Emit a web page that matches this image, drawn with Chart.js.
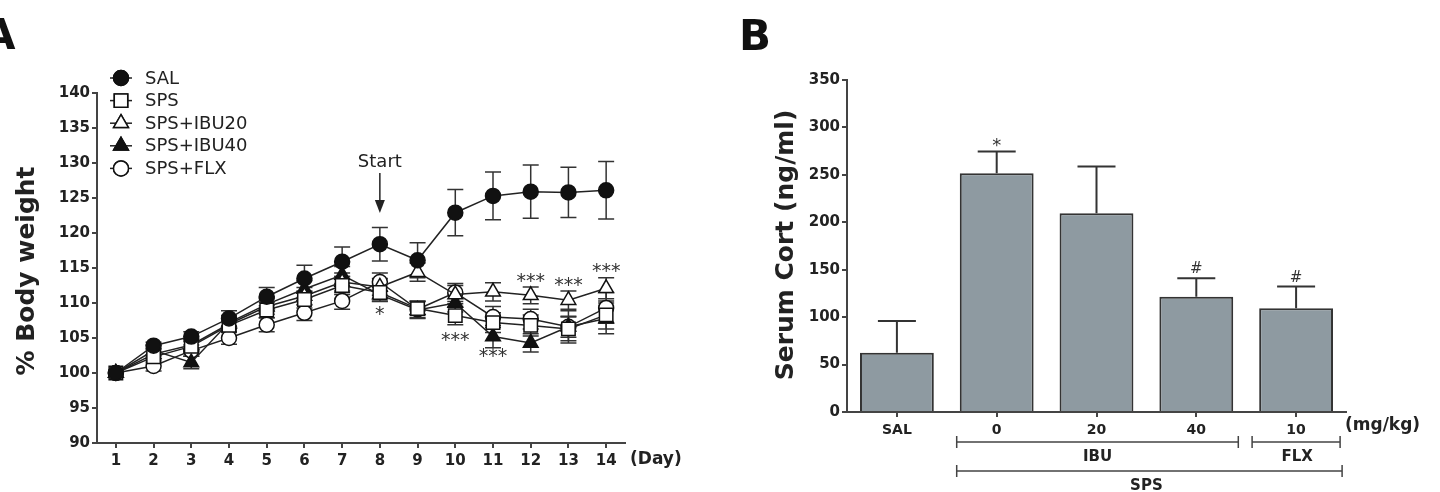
<!DOCTYPE html>
<html>
<head>
<meta charset="utf-8">
<script src="https://cdn.jsdelivr.net/npm/chart.js@4.4.0/dist/chart.umd.min.js"></script>
<style>
  html, body { margin: 0; padding: 0; background: #fff; }
  #wrap { position: relative; width: 1440px; height: 492px; overflow: hidden; }
  .panel { position: absolute; top: 0; width: 720px; height: 492px; }
</style>
</head>
<body>
<div id="wrap">
  <div class="panel" style="left:0"><canvas id="chartA"></canvas></div>
  <div class="panel" style="left:720px"><canvas id="chartB"></canvas></div>
</div>
<script>
// Panel A: % body weight por día
const days = ['1', '2', '3', '4', '5', '6', '7', '8', '9', '10', '11', '12', '13', '14'];
const salMean   = [100, 103.9, 105.2, 107.8, 110.9, 113.5, 115.9, 118.4, 116.1, 122.9, 125.3, 125.9, 125.8, 126.1];
const salErr    = [0, 0.5, 0.7, 1.1, 1.3, 1.9, 2.1, 2.4, 2.5, 3.3, 3.4, 3.8, 3.6, 4.1];
const spsMean   = [100, 102.3, 103.8, 106.8, 109.0, 110.5, 112.5, 111.5, 109.2, 108.2, 107.2, 106.8, 106.3, 108.3];
const spsErr    = [0, 0.8, 0.9, 1.0, 1.1, 1.2, 1.3, 1.2, 1.0, 1.3, 1.4, 1.5, 1.7, 2.0];
const ibu20Mean = [100, 102.7, 104.0, 107.0, 109.5, 111.0, 113.0, 112.3, 114.4, 111.2, 111.6, 111.1, 110.4, 112.1];
const ibu20Err  = [0, 0.8, 0.9, 1.0, 1.1, 1.2, 1.3, 1.2, 1.3, 1.3, 1.3, 1.2, 1.3, 1.5];
const ibu40Mean = [100, 103.2, 101.5, 107.2, 109.8, 112.0, 114.0, 111.2, 109.0, 110.0, 105.2, 104.3, 106.6, 107.8];
const ibu40Err  = [0, 0.8, 0.9, 1.0, 1.0, 1.2, 1.2, 1.0, 1.2, 1.3, 1.6, 1.3, 1.5, 2.2];
const flxMean   = [100, 101.0, 103.2, 105.0, 106.9, 108.6, 110.3, 113.0, 109.1, 111.5, 108.0, 107.7, 106.6, 109.3];
const flxErr    = [0, 0.7, 0.8, 0.9, 1.0, 1.1, 1.2, 1.3, 1.2, 1.3, 1.5, 1.4, 2.3, 2.2];
const seriesNames = ['SAL', 'SPS', 'SPS+IBU20', 'SPS+IBU40', 'SPS+FLX'];

// marcas de significancia (día, nivel en % peso, texto)
const weightMarks = [
  { day: '8',  y: 108.9, text: '*' },
  { day: '10', y: 105.1, text: '***' },
  { day: '11', y: 102.9, text: '***' },
  { day: '12', y: 113.6, text: '***' },
  { day: '13', y: 113.0, text: '***' },
  { day: '14', y: 115.0, text: '***' }
];

// Panel B: cortisol sérico
const cortLabels = ['SAL', '0', '20', '40', '10'];
const cortMean   = [62.5, 251.8, 209.6, 121.6, 109.4];
const cortErr    = [33.5, 22.8, 49.2, 19.4, 22.8];
const cortMarks  = ['', '*', '', '#', '#'];

const FONT = 'DejaVu Sans';
const INK = '#222';
const AXIS = '#444';

// estilos de los marcadores para cada serie
const markerStyles = [
  { style: 'circle',   radius: 7.5, fill: '#111' },
  { style: 'rect',     radius: 9.5, fill: '#fff' },
  { style: 'triangle', radius: 8.5, fill: '#fff' },
  { style: 'triangle', radius: 8.5, fill: '#111' },
  { style: 'circle',   radius: 7.5, fill: '#fff' }
];
const means = [salMean, spsMean, ibu20Mean, ibu40Mean, flxMean];
const errs  = [salErr, spsErr, ibu20Err, ibu40Err, flxErr];

const datasetsA = seriesNames.map((name, i) => ({
  label: name,
  data: means[i],
  errors: errs[i],
  borderColor: '#222',
  borderWidth: 1.5,
  tension: 0,
  fill: false,
  pointStyle: markerStyles[i].style,
  pointRadius: markerStyles[i].radius,
  pointBackgroundColor: markerStyles[i].fill,
  pointBorderColor: '#111',
  pointBorderWidth: 1.5
}));

// barras de error (arriba y abajo) para la gráfica de líneas
const errorBarsA = {
  id: 'errorBarsA',
  beforeDatasetsDraw(chart) {
    const { ctx, scales: { x, y } } = chart;
    ctx.save();
    ctx.strokeStyle = '#333';
    ctx.lineWidth = 1.5;
    chart.data.datasets.forEach(ds => {
      ds.data.forEach((v, i) => {
        const e = ds.errors[i];
        if (!e) return;
        const px = x.getPixelForValue(i);
        const top = y.getPixelForValue(v + e);
        const bot = y.getPixelForValue(v - e);
        ctx.beginPath();
        ctx.moveTo(px, top); ctx.lineTo(px, bot);
        ctx.moveTo(px - 8, top); ctx.lineTo(px + 8, top);
        ctx.moveTo(px - 8, bot); ctx.lineTo(px + 8, bot);
        ctx.stroke();
      });
    });
    ctx.restore();
  }
};

// textos, leyenda y anotaciones del panel A
const decorA = {
  id: 'decorA',
  afterDraw(chart) {
    const { ctx, scales: { x, y }, chartArea } = chart;
    ctx.save();
    ctx.fillStyle = '#111';
    ctx.font = `bold 42px "${FONT}"`;
    ctx.textBaseline = 'alphabetic';
    ctx.textAlign = 'left';
    ctx.fillText('A', -17, 49);

    // título eje y
    ctx.save();
    ctx.translate(27, (chartArea.top + chartArea.bottom) / 2 + 3);
    ctx.rotate(-Math.PI / 2);
    ctx.textAlign = 'center';
    ctx.textBaseline = 'middle';
    ctx.font = `bold 25px "${FONT}"`;
    ctx.fillStyle = INK;
    ctx.fillText('% Body weight', 0, 0);
    ctx.restore();

    // (Day)
    ctx.font = `bold 17px "${FONT}"`;
    ctx.fillStyle = INK;
    ctx.textAlign = 'left';
    ctx.textBaseline = 'middle';
    ctx.fillText('(Day)', chartArea.right + 5, 460);

    // leyenda
    seriesNames.forEach((name, i) => {
      const ly = 78 + i * 22.6;
      const lx = 121;
      ctx.strokeStyle = '#222';
      ctx.lineWidth = 1.5;
      ctx.beginPath();
      ctx.moveTo(lx - 11, ly); ctx.lineTo(lx + 11, ly);
      ctx.stroke();
      ctx.fillStyle = markerStyles[i].fill;
      ctx.strokeStyle = '#111';
      Chart.helpers.drawPoint(ctx, {
        pointStyle: markerStyles[i].style,
        radius: markerStyles[i].radius,
        rotation: 0,
        borderWidth: 1.5
      }, lx, ly);
      ctx.fill();
      ctx.stroke();
      ctx.fillStyle = INK;
      ctx.font = `18px "${FONT}"`;
      ctx.textAlign = 'left';
      ctx.textBaseline = 'middle';
      ctx.fillText(name, 145, ly + 1);
    });

    // Start + flecha
    const sx = x.getPixelForValue(days.indexOf('8'));
    ctx.fillStyle = INK;
    ctx.font = `18px "${FONT}"`;
    ctx.textAlign = 'center';
    ctx.textBaseline = 'middle';
    ctx.fillText('Start', sx, 162);
    ctx.strokeStyle = '#222';
    ctx.lineWidth = 1.5;
    ctx.beginPath();
    ctx.moveTo(sx, 173); ctx.lineTo(sx, 203);
    ctx.stroke();
    ctx.beginPath();
    ctx.moveTo(sx - 5, 200); ctx.lineTo(sx + 5, 200); ctx.lineTo(sx, 213);
    ctx.closePath();
    ctx.fill();

    // asteriscos
    ctx.font = `19px "${FONT}"`;
    ctx.fillStyle = '#333';
    ctx.textBaseline = 'middle';
    weightMarks.forEach(m => {
      const px = x.getPixelForValue(days.indexOf(m.day));
      const py = y.getPixelForValue(m.y);
      ctx.fillText(m.text, px, py + 4);
    });
    ctx.restore();
  }
};

new Chart(document.getElementById('chartA'), {
  type: 'line',
  data: { labels: days, datasets: datasetsA },
  options: {
    responsive: true,
    maintainAspectRatio: false,
    animation: false,
    layout: { padding: { left: 0, right: 95, top: 93, bottom: 0 } },
    plugins: { legend: { display: false }, tooltip: { enabled: false } },
    scales: {
      x: {
        offset: true,
        grid: { drawOnChartArea: false, tickLength: 5, color: AXIS, lineWidth: 2 },
        border: { color: AXIS, width: 2 },
        ticks: { font: { family: FONT, weight: 'bold', size: 15 }, color: INK, padding: 4, maxRotation: 0, autoSkip: false },
        afterFit: s => { s.height = 49; }
      },
      y: {
        min: 90,
        max: 140,
        grid: { drawOnChartArea: false, tickLength: 5, color: AXIS, lineWidth: 2 },
        border: { color: AXIS, width: 2 },
        ticks: { stepSize: 5, font: { family: FONT, weight: 'bold', size: 15 }, color: INK, padding: 2 },
        afterFit: s => { s.width = 97; }
      }
    }
  },
  plugins: [errorBarsA, decorA]
});

// barras de error (sólo hacia arriba) para el panel B
const errorBarsB = {
  id: 'errorBarsB',
  beforeDatasetsDraw(chart) {
    const { ctx, scales: { x, y } } = chart;
    const ds = chart.data.datasets[0];
    ctx.save();
    ctx.strokeStyle = '#333';
    ctx.lineWidth = 2;
    ds.data.forEach((v, i) => {
      const px = x.getPixelForValue(i);
      const top = y.getPixelForValue(v + cortErr[i]);
      ctx.beginPath();
      ctx.moveTo(px, y.getPixelForValue(v)); ctx.lineTo(px, top);
      ctx.moveTo(px - 19, top); ctx.lineTo(px + 19, top);
      ctx.stroke();
    });
    ctx.restore();
  }
};

const decorB = {
  id: 'decorB',
  afterDraw(chart) {
    const { ctx, scales: { x, y }, chartArea } = chart;
    ctx.save();
    ctx.fillStyle = '#111';
    ctx.font = `bold 42px "${FONT}"`;
    ctx.textAlign = 'left';
    ctx.textBaseline = 'alphabetic';
    ctx.fillText('B', 19, 50);

    ctx.save();
    ctx.translate(66, 245);
    ctx.rotate(-Math.PI / 2);
    ctx.textAlign = 'center';
    ctx.textBaseline = 'middle';
    ctx.font = `bold 25px "${FONT}"`;
    ctx.fillStyle = INK;
    ctx.fillText('Serum Cort (ng/ml)', 0, 0);
    ctx.restore();

    // significancia sobre las barras
    ctx.fillStyle = '#333';
    ctx.textAlign = 'center';
    ctx.textBaseline = 'alphabetic';
    cortMarks.forEach((m, i) => {
      if (!m) return;
      const px = x.getPixelForValue(i);
      const py = y.getPixelForValue(cortMean[i] + cortErr[i]);
      ctx.font = m === '*' ? `18px "${FONT}"` : `15px "${FONT}"`;
      ctx.fillText(m, px, m === '*' ? py - 1 : py - 5);
    });

    ctx.fillStyle = INK;
    ctx.font = `bold 17px "${FONT}"`;
    ctx.textAlign = 'left';
    ctx.textBaseline = 'middle';
    ctx.fillText('(mg/kg)', chartArea.right - 1, 426);

    // corchetes de grupos
    const bracket = (x1, x2, yy) => {
      ctx.beginPath();
      ctx.moveTo(x1, yy); ctx.lineTo(x2, yy);
      ctx.moveTo(x1, yy - 6); ctx.lineTo(x1, yy + 6);
      ctx.moveTo(x2, yy - 6); ctx.lineTo(x2, yy + 6);
      ctx.stroke();
    };
    ctx.strokeStyle = '#444';
    ctx.lineWidth = 1.5;
    const x0 = x.getPixelForValue(1), x20 = x.getPixelForValue(2), x40 = x.getPixelForValue(3), x10 = x.getPixelForValue(4);
    bracket(x0 - 40, x40 + 42, 442);
    bracket(x10 - 44, x10 + 44, 442);
    bracket(x0 - 40, x10 + 46, 471);
    ctx.font = `bold 15px "${FONT}"`;
    ctx.textAlign = 'center';
    ctx.fillStyle = INK;
    ctx.fillText('IBU', x20 + 1, 457);
    ctx.fillText('FLX', x10 + 1, 457);
    ctx.fillText('SPS', (x0 + x10) / 2, 486);
    ctx.restore();
  }
};

new Chart(document.getElementById('chartB'), {
  type: 'bar',
  data: {
    labels: cortLabels,
    datasets: [{
      label: 'Serum Cort',
      data: cortMean,
      backgroundColor: '#8e9aa1',
      borderColor: '#333',
      borderWidth: 2,
      barPercentage: 0.74,
      categoryPercentage: 1
    }]
  },
  options: {
    responsive: true,
    maintainAspectRatio: false,
    animation: false,
    layout: { padding: { left: 0, right: 94, top: 80, bottom: 0 } },
    plugins: { legend: { display: false }, tooltip: { enabled: false } },
    scales: {
      x: {
        grid: { offset: false, drawOnChartArea: false, tickLength: 5, color: AXIS, lineWidth: 2 },
        border: { color: AXIS, width: 2 },
        ticks: { font: { family: FONT, weight: 'bold', size: 14 }, color: INK, padding: 5, maxRotation: 0 },
        afterFit: s => { s.height = 80; }
      },
      y: {
        min: 0,
        max: 350,
        grid: { drawOnChartArea: false, tickLength: 5, color: AXIS, lineWidth: 2 },
        border: { color: AXIS, width: 2 },
        ticks: { stepSize: 50, font: { family: FONT, weight: 'bold', size: 15 }, color: INK, padding: 2 },
        afterFit: s => { s.width = 127; }
      }
    }
  },
  plugins: [errorBarsB, decorB]
});
</script>
</body>
</html>
